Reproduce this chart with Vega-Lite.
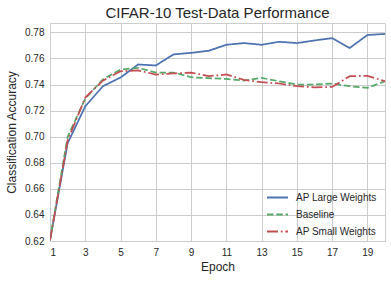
{
  "$schema": "https://vega.github.io/schema/vega-lite/v6.json",
  "width": 335,
  "height": 218,
  "autosize": {"type": "none"},
  "padding": {"left": 50, "top": 23, "right": 6, "bottom": 40},
  "background": "white",
  "title": {"text": "CIFAR-10 Test-Data Performance", "font": "Liberation Sans", "fontSize": 15, "fontWeight": "normal", "color": "#262626", "offset": 2, "anchor": "middle"},
  "config": {
    "view": {"stroke": "#cccccc", "strokeWidth": 1},
    "font": "Liberation Sans",
    "axis": {"domain": false, "ticks": false, "gridColor": "#cccccc", "gridWidth": 1, "labelFont": "Liberation Sans", "labelFontSize": 10, "labelColor": "#262626", "titleFont": "Liberation Sans", "titleFontSize": 12, "titleFontWeight": "normal", "titleColor": "#262626"}
  },
  "data": {"values": [
    {"epoch": 1, "series": "AP Large Weights", "acc": 0.6205},
    {"epoch": 2, "series": "AP Large Weights", "acc": 0.695},
    {"epoch": 3, "series": "AP Large Weights", "acc": 0.7233},
    {"epoch": 4, "series": "AP Large Weights", "acc": 0.7387},
    {"epoch": 5, "series": "AP Large Weights", "acc": 0.7454},
    {"epoch": 6, "series": "AP Large Weights", "acc": 0.7554},
    {"epoch": 7, "series": "AP Large Weights", "acc": 0.7546},
    {"epoch": 8, "series": "AP Large Weights", "acc": 0.7631},
    {"epoch": 9, "series": "AP Large Weights", "acc": 0.7643},
    {"epoch": 10, "series": "AP Large Weights", "acc": 0.7659},
    {"epoch": 11, "series": "AP Large Weights", "acc": 0.7705},
    {"epoch": 12, "series": "AP Large Weights", "acc": 0.7718},
    {"epoch": 13, "series": "AP Large Weights", "acc": 0.7705},
    {"epoch": 14, "series": "AP Large Weights", "acc": 0.7728},
    {"epoch": 15, "series": "AP Large Weights", "acc": 0.7718},
    {"epoch": 16, "series": "AP Large Weights", "acc": 0.7738},
    {"epoch": 17, "series": "AP Large Weights", "acc": 0.7756},
    {"epoch": 18, "series": "AP Large Weights", "acc": 0.768},
    {"epoch": 19, "series": "AP Large Weights", "acc": 0.778},
    {"epoch": 20, "series": "AP Large Weights", "acc": 0.7788},
    {"epoch": 1, "series": "Baseline", "acc": 0.621},
    {"epoch": 2, "series": "Baseline", "acc": 0.7},
    {"epoch": 3, "series": "Baseline", "acc": 0.7292},
    {"epoch": 4, "series": "Baseline", "acc": 0.744},
    {"epoch": 5, "series": "Baseline", "acc": 0.7515},
    {"epoch": 6, "series": "Baseline", "acc": 0.7528},
    {"epoch": 7, "series": "Baseline", "acc": 0.7492},
    {"epoch": 8, "series": "Baseline", "acc": 0.7492},
    {"epoch": 9, "series": "Baseline", "acc": 0.7456},
    {"epoch": 10, "series": "Baseline", "acc": 0.7449},
    {"epoch": 11, "series": "Baseline", "acc": 0.7443},
    {"epoch": 12, "series": "Baseline", "acc": 0.7431},
    {"epoch": 13, "series": "Baseline", "acc": 0.7451},
    {"epoch": 14, "series": "Baseline", "acc": 0.7425},
    {"epoch": 15, "series": "Baseline", "acc": 0.74},
    {"epoch": 16, "series": "Baseline", "acc": 0.74},
    {"epoch": 17, "series": "Baseline", "acc": 0.7408},
    {"epoch": 18, "series": "Baseline", "acc": 0.7387},
    {"epoch": 19, "series": "Baseline", "acc": 0.7374},
    {"epoch": 20, "series": "Baseline", "acc": 0.7425},
    {"epoch": 1, "series": "AP Small Weights", "acc": 0.6205},
    {"epoch": 2, "series": "AP Small Weights", "acc": 0.697},
    {"epoch": 3, "series": "AP Small Weights", "acc": 0.73},
    {"epoch": 4, "series": "AP Small Weights", "acc": 0.743},
    {"epoch": 5, "series": "AP Small Weights", "acc": 0.7502},
    {"epoch": 6, "series": "AP Small Weights", "acc": 0.7508},
    {"epoch": 7, "series": "AP Small Weights", "acc": 0.7477},
    {"epoch": 8, "series": "AP Small Weights", "acc": 0.7485},
    {"epoch": 9, "series": "AP Small Weights", "acc": 0.7492},
    {"epoch": 10, "series": "AP Small Weights", "acc": 0.7464},
    {"epoch": 11, "series": "AP Small Weights", "acc": 0.7477},
    {"epoch": 12, "series": "AP Small Weights", "acc": 0.7436},
    {"epoch": 13, "series": "AP Small Weights", "acc": 0.7418},
    {"epoch": 14, "series": "AP Small Weights", "acc": 0.7408},
    {"epoch": 15, "series": "AP Small Weights", "acc": 0.7387},
    {"epoch": 16, "series": "AP Small Weights", "acc": 0.7379},
    {"epoch": 17, "series": "AP Small Weights", "acc": 0.7382},
    {"epoch": 18, "series": "AP Small Weights", "acc": 0.7464},
    {"epoch": 19, "series": "AP Small Weights", "acc": 0.7467},
    {"epoch": 20, "series": "AP Small Weights", "acc": 0.7425}
  ]},
  "mark": {"type": "line", "strokeWidth": 1.75, "clip": true},
  "encoding": {
    "x": {"field": "epoch", "type": "quantitative", "title": "Epoch",
      "scale": {"domain": [1, 20], "nice": false, "zero": false},
      "axis": {"values": [1, 3, 5, 7, 9, 11, 13, 15, 17, 19], "labelPadding": 6, "titlePadding": 4}},
    "y": {"field": "acc", "type": "quantitative", "title": "Classification Accuracy",
      "scale": {"domain": [0.62, 0.7872], "nice": false, "zero": false},
      "axis": {"values": [0.62, 0.64, 0.66, 0.68, 0.7, 0.72, 0.74, 0.76, 0.78], "format": ".2f", "labelPadding": 6, "titleX": -39, "titleBaseline": "middle"}},
    "color": {"field": "series", "type": "nominal", "title": null,
      "scale": {"domain": ["AP Large Weights", "Baseline", "AP Small Weights"], "range": ["#4C72B0", "#55A868", "#C44E52"]},
      "legend": {"orient": "none", "legendX": 216, "legendY": 163, "symbolType": "stroke", "symbolSize": 441, "symbolStrokeWidth": 2, "labelFontSize": 10, "labelColor": "#262626", "labelFont": "Liberation Sans", "rowPadding": -7, "labelOffset": 7, "padding": 0}},
    "strokeDash": {"field": "series", "type": "nominal", "title": null,
      "scale": {"domain": ["AP Large Weights", "Baseline", "AP Small Weights"], "range": [[1, 0], [6.5, 2.8], [11, 2.8, 1.75, 2.8]]},
      "legend": {"orient": "none", "legendX": 216, "legendY": 163, "symbolType": "stroke", "symbolSize": 441, "symbolStrokeWidth": 2, "labelFontSize": 10, "labelColor": "#262626", "labelFont": "Liberation Sans", "rowPadding": -7, "labelOffset": 7, "padding": 0}}
  }
}
